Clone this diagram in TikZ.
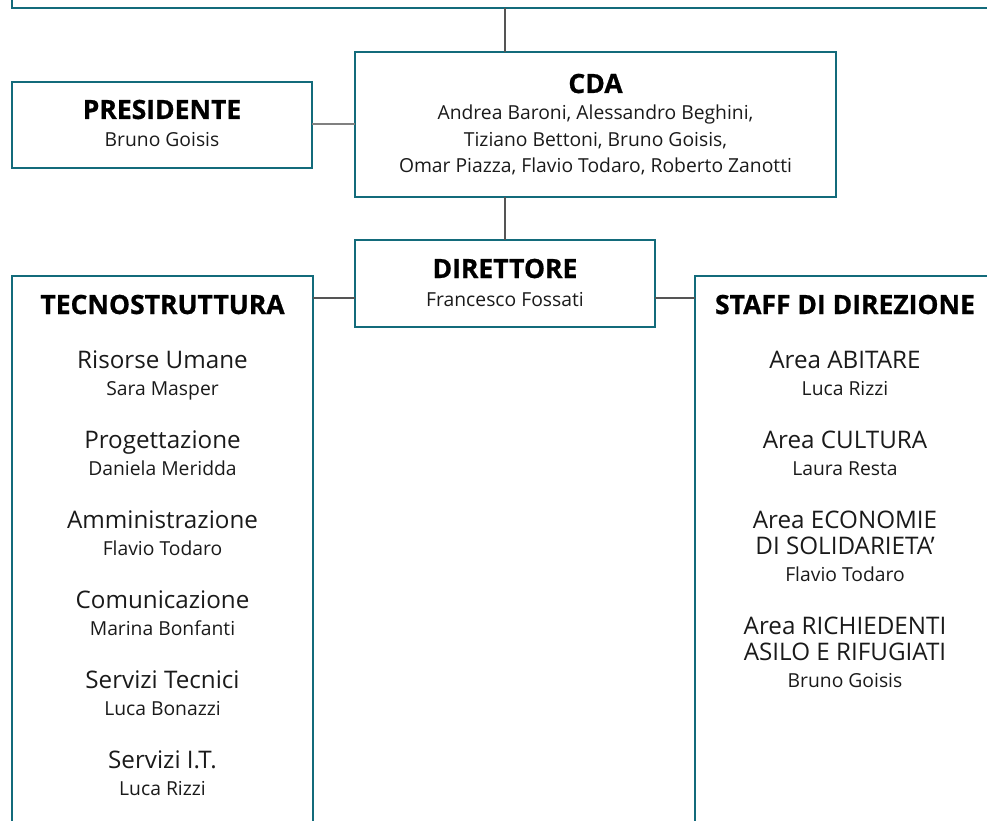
\documentclass[tikz,border=0pt]{standalone}
\usepackage{fontspec}
\setmainfont{Open Sans}[BoldFeatures={FakeBold=0.8}]
\definecolor{teal1}{HTML}{136B7B}
\definecolor{conn}{HTML}{555555}
\definecolor{txt}{HTML}{1A1A1A}
\tikzset{
  box/.style={draw=teal1, line width=2.6pt},
  conline/.style={draw=conn, line width=1.1pt},
  ttl/.style={anchor=base, inner sep=0pt, text=black, font=\fontsize{26.5}{30}\selectfont\bfseries},
  nm/.style={anchor=base, inner sep=0pt, text=txt, font=\fontsize{19.3}{23}\selectfont},
  itm/.style={anchor=base, inner sep=0pt, text=txt, font=\fontsize{24.2}{28}\selectfont},
}
\begin{document}
\begin{tikzpicture}[x=1pt,y=-1pt]
\useasboundingbox (0,0) rectangle (987,821);
% boxes
\draw[box] (12,-20) rectangle (1010,8);
\draw[box] (355,52) rectangle (836,197);
\draw[box] (12,82) rectangle (312,168);
\draw[box] (355,240) rectangle (655,327);
\draw[box] (12,276) rectangle (313,840);
\draw[box] (695,276) rectangle (1000,840);
% connector coordinates
\coordinate (topb) at (505,8);
\coordinate (cdat) at (505,52);
\coordinate (cdab) at (505,197);
\coordinate (dirt) at (505,240);
\coordinate (presr) at (312,124);
\coordinate (cdal) at (355,124);
\coordinate (tecr) at (313,298);
\coordinate (dirl) at (355,298);
\coordinate (dirr) at (655,298);
\coordinate (stal) at (695,298);
\draw[conline] (topb) -- (cdat);
\draw[conline] (cdab) -- (dirt);
\draw[conline, draw=gray] (presr) -- (cdal);
\draw[conline] (tecr) -- (dirl);
\draw[conline] (dirr) -- (stal);
% CDA
\node[ttl] (cda) at (595.5,93) {CDA};
\node[nm] (cda1) at (595.5,120) {Andrea Baroni, Alessandro Beghini,};
\node[nm] (cda2) at (595.5,147) {Tiziano Bettoni, Bruno Goisis,};
\node[nm] (cda3) at (595.5,173) {Omar Piazza, Flavio Todaro, Roberto Zanotti};
% PRESIDENTE
\node[ttl] (pres) at (162,119) {PRESIDENTE};
\node[nm] (pres1) at (162,147) {Bruno Goisis};
% DIRETTORE
\node[ttl] (dir) at (505,278) {DIRETTORE};
\node[nm] (dir1) at (505,306) {Francesco Fossati};
% TECNOSTRUTTURA
\node[ttl] (tec) at (162.5,314) {TECNOSTRUTTURA};
\node[itm] (t1) at (162.5,368) {Risorse Umane};
\node[nm] (t1n) at (162.5,395) {Sara Masper};
\node[itm] (t2) at (162.5,448) {Progettazione};
\node[nm] (t2n) at (162.5,475) {Daniela Meridda};
\node[itm] (t3) at (162.5,528) {Amministrazione};
\node[nm] (t3n) at (162.5,555) {Flavio Todaro};
\node[itm] (t4) at (162.5,608) {Comunicazione};
\node[nm] (t4n) at (162.5,635) {Marina Bonfanti};
\node[itm] (t5) at (162.5,688) {Servizi Tecnici};
\node[nm] (t5n) at (162.5,715) {Luca Bonazzi};
\node[itm] (t6) at (162.5,768) {Servizi I.T.};
\node[nm] (t6n) at (162.5,795) {Luca Rizzi};
% STAFF
\node[ttl] (sta) at (845,314) {STAFF DI DIREZIONE};
\node[itm] (s1) at (845,368) {Area ABITARE};
\node[nm] (s1n) at (845,395) {Luca Rizzi};
\node[itm] (s2) at (845,448) {Area CULTURA};
\node[nm] (s2n) at (845,475) {Laura Resta};
\node[itm] (s3) at (845,528) {Area ECONOMIE};
\node[itm] (s3b) at (845,554) {DI SOLIDARIETA’};
\node[nm] (s3n) at (845,581) {Flavio Todaro};
\node[itm] (s4) at (845,634) {Area RICHIEDENTI};
\node[itm] (s4b) at (845,660) {ASILO E RIFUGIATI};
\node[nm] (s4n) at (845,687) {Bruno Goisis};
\end{tikzpicture}
\end{document}
